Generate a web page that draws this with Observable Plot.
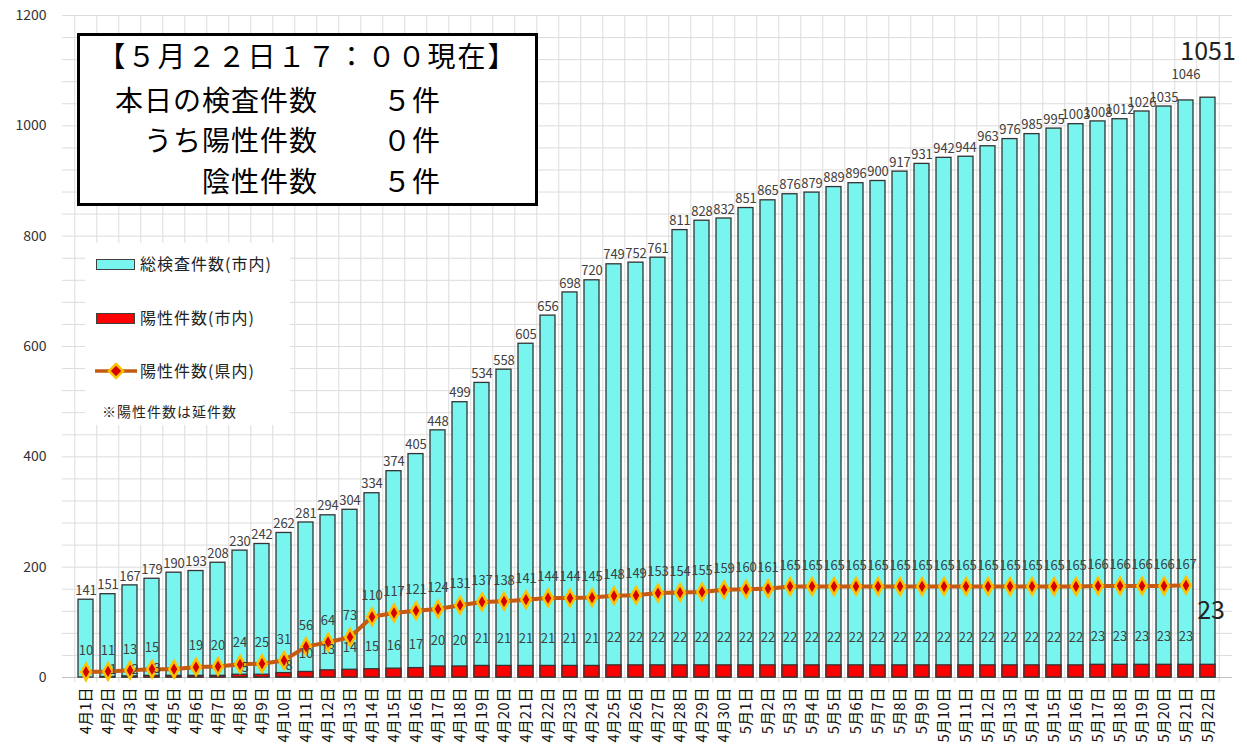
<!DOCTYPE html>
<html><head><meta charset="utf-8">
<script src="https://cdn.jsdelivr.net/npm/d3@7"></script>
<script src="https://cdn.jsdelivr.net/npm/@observablehq/plot@0.6"></script>
<style>
body{margin:0;background:#fff;font-family:'Noto Sans CJK JP',sans-serif;}
#wrap{position:relative;width:1247px;height:755px;overflow:hidden;}
#title{position:absolute;left:77px;top:33px;width:455px;height:167px;border:3px solid #000;background:#fff;color:#000;font-size:28px;}
#title div{position:absolute;white-space:nowrap;line-height:1;}
#legend{position:absolute;left:85px;top:243px;width:205px;height:182px;background:#fff;font-size:16px;color:#222;}
#legend .sw{position:absolute;left:11px;width:37px;height:9px;border:1px solid #404040;}
#legend .tx{position:absolute;left:55px;white-space:nowrap;line-height:1;letter-spacing:1px;}
</style></head>
<body><div id="wrap"></div>
<script>
const dates = ["4月1日","4月2日","4月3日","4月4日","4月5日","4月6日","4月7日","4月8日","4月9日","4月10日",
"4月11日","4月12日","4月13日","4月14日","4月15日","4月16日","4月17日","4月18日","4月19日","4月20日",
"4月21日","4月22日","4月23日","4月24日","4月25日","4月26日","4月27日","4月28日","4月29日","4月30日",
"5月1日","5月2日","5月3日","5月4日","5月5日","5月6日","5月7日","5月8日","5月9日","5月10日",
"5月11日","5月12日","5月13日","5月14日","5月15日","5月16日","5月17日","5月18日","5月19日","5月20日",
"5月21日","5月22日"];
const totalTests = [141,151,167,179,190,193,208,230,242,262,
281,294,304,334,374,405,448,499,534,558,
605,656,698,720,749,752,761,811,828,832,
851,865,876,879,889,896,900,917,931,942,
944,963,976,985,995,1003,1008,1012,1026,1035,
1046,1051];
const cityPositive = [0,1,2,3,3,3,3,5,5,8,
10,13,14,15,16,17,20,20,21,21,
21,21,21,21,22,22,22,22,22,22,
22,22,22,22,22,22,22,22,22,22,
22,22,22,22,22,22,23,23,23,23,
23,23];
const prefPositive = [10,11,13,15,15,19,20,24,25,31,
56,64,73,110,117,121,124,131,137,138,
141,144,144,145,148,149,153,154,155,159,
160,161,165,165,165,165,165,165,165,165,
165,165,165,165,165,165,166,166,166,166,
167];
const hiddenCityLabels = ["4月1日","4月5日","4月6日","4月7日","4月9日"];
const hiddenPrefLabels = ["4月5日"];
const yTicks = [0,200,400,600,800,1000,1200];
const gridStep = 40;
const legendLabels = ["総検査件数(市内)","陽性件数(市内)","陽性件数(県内)"];
const legendNote = "※陽性件数は延件数";
const titleLines = ["【５月２２日１７：００現在】","本日の検査件数","うち陽性件数","陰性件数"];
const titleValues = ["５件","０件","５件"];

const W = 1247, H = 755, ML = 62, MR = 15, MT = 15, MB = 78;
const step = (W - ML - MR) / dates.length;
const last = dates.length - 1;

const rows = dates.map((d, i) => ({date: d, total: totalTests[i], city: cityPositive[i], i}));
const prefRows = prefPositive.map((v, i) => ({date: dates[i], pref: v, i}));

const CYAN = "#78f5ef", RED = "#ff0000", LINE = "#c55a11", EDGE = "#333333", LBL = "#404040";

// city labels >= 10: grouped by value so that each group gets its own lift
const cityBig = rows.filter(d => d.i < last && d.city >= 10);
const cityLabelMarks = d3.groups(cityBig, d => d.city).map(([v, g]) =>
  Plot.text(g, {x: "date", y: "city", text: d => String(d.city), dy: -(11 + 0.75 * v), fontSize: 13, fill: LBL}));

const chart = Plot.plot({
  width: W, height: H,
  marginLeft: ML, marginRight: MR, marginTop: MT, marginBottom: MB,
  style: {fontFamily: "'Noto Sans CJK JP', sans-serif", background: "transparent"},
  x: {type: "band", domain: dates, padding: 0.31, label: null},
  y: {domain: [0, 1200], label: null},
  marks: [
    Plot.ruleY(d3.range(0, 1201, gridStep), {stroke: "#dcdcdc", strokeWidth: 1}),
    Plot.ruleX(dates, {x: d => d, dx: -step / 2, y1: -10, y2: 1200, stroke: "#dcdcdc", strokeWidth: 1}),
    Plot.ruleX([dates[last]], {x: d => d, dx: step / 2, y1: -10, y2: 1200, stroke: "#dcdcdc", strokeWidth: 1}),
    Plot.ruleY([0], {stroke: "#bfbfbf", strokeWidth: 1}),
    Plot.barY(rows, {x: "date", y1: 0, y2: "total", fill: CYAN, stroke: EDGE, strokeWidth: 1.3}),
    Plot.barY(rows, {x: "date", y1: 0, y2: "city", fill: RED, stroke: EDGE, strokeWidth: 1.3}),
    Plot.line(prefRows, {x: "date", y: "pref", stroke: LINE, strokeWidth: 4, curve: "linear"}),
    Plot.dot(prefRows, {x: "date", y: "pref", symbol: "diamond", r: 5, fill: "#d40000", stroke: "#ffc000", strokeWidth: 2.5}),
    // total labels
    Plot.text(rows.filter(d => d.i < last - 1), {x: "date", y: "total", text: d => String(d.total), dy: -9, fontSize: 13, fill: LBL}),
    Plot.text(rows.filter(d => d.i === last - 1), {x: "date", y: "total", text: d => String(d.total), dy: -26, fontSize: 13, fill: LBL}),
    Plot.text(rows.filter(d => d.i === last), {x: "date", y: "total", text: d => String(d.total), dy: -46, fontSize: 25, fill: "#222"}),
    // pref line labels
    Plot.text(prefRows.filter(d => !hiddenPrefLabels.includes(d.date)), {x: "date", y: "pref", text: d => String(d.pref), dy: -21, fontSize: 13, fill: LBL}),
    // city labels
    Plot.text(rows.filter(d => d.i < last && d.city < 10 && !hiddenCityLabels.includes(d.date)), {x: "date", y: "city", text: d => String(d.city), dx: 5, dy: -7, fontSize: 13, fill: LBL}),
    ...cityLabelMarks,
    Plot.text(rows.filter(d => d.i === last), {x: "date", y: "city", text: d => String(d.city), dx: 3, dy: -54, fontSize: 25, fill: "#222"}),
    Plot.axisY({ticks: yTicks, tickFormat: d => String(d), tickSize: 0, tickPadding: 16, fontSize: 14, color: "#333", label: null}),
    Plot.axisX({tickRotate: -90, tickSize: 0, tickPadding: 10, fontSize: 15, color: "#111", label: null})
  ]
});

const wrap = document.getElementById("wrap");
wrap.appendChild(chart);

// title box
const tb = document.createElement("div");
tb.id = "title";
const t0 = document.createElement("div");
t0.textContent = titleLines[0];
t0.style.left = "0"; t0.style.width = "100%"; t0.style.textAlign = "center"; t0.style.top = "5px"; t0.style.letterSpacing = "2px";
tb.appendChild(t0);
const rowTops = [49, 89, 130];
for (let k = 0; k < 3; k++) {
  const a = document.createElement("div");
  a.textContent = titleLines[k + 1];
  a.style.right = "217px"; a.style.textAlign = "right"; a.style.top = rowTops[k] + "px"; a.style.letterSpacing = "1px";
  tb.appendChild(a);
  const b = document.createElement("div");
  b.textContent = titleValues[k];
  b.style.left = "303px"; b.style.top = rowTops[k] + "px"; b.style.letterSpacing = "1px";
  tb.appendChild(b);
}
wrap.appendChild(tb);

// legend
const lg = document.createElement("div");
lg.id = "legend";
const sw1 = document.createElement("div"); sw1.className = "sw"; sw1.style.top = "16px"; sw1.style.background = CYAN; lg.appendChild(sw1);
const sw2 = document.createElement("div"); sw2.className = "sw"; sw2.style.top = "70px"; sw2.style.background = RED; lg.appendChild(sw2);
const sw3 = document.createElementNS("http://www.w3.org/2000/svg", "svg");
sw3.setAttribute("width", "50"); sw3.setAttribute("height", "20");
sw3.style.position = "absolute"; sw3.style.left = "8px"; sw3.style.top = "118px";
sw3.innerHTML = `<line x1="2" y1="10" x2="44" y2="10" stroke="${LINE}" stroke-width="3.5"/><path d="M23,3 L30,10 L23,17 L16,10 Z" fill="#d40000" stroke="#ffc000" stroke-width="2.5"/>`;
lg.appendChild(sw3);
const tops = [12, 66, 119];
legendLabels.forEach((s, k) => {
  const t = document.createElement("div"); t.className = "tx"; t.textContent = s; t.style.top = tops[k] + "px"; lg.appendChild(t);
});
const note = document.createElement("div"); note.className = "tx"; note.textContent = legendNote;
note.style.left = "17px"; note.style.top = "161px"; note.style.fontSize = "14px"; lg.appendChild(note);
wrap.appendChild(lg);
</script></body></html>
